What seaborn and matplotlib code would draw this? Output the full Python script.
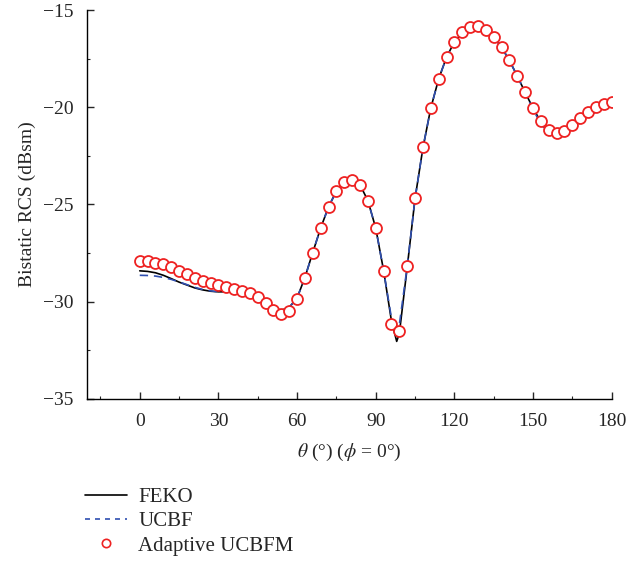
import numpy as np
import pandas as pd
import matplotlib
matplotlib.use("Agg")
import matplotlib.pyplot as plt
from matplotlib.ticker import MultipleLocator
from matplotlib.lines import Line2D
import seaborn as sns

# ── data ──
theta_line = [0, 3, 6, 9, 12, 15, 18, 21, 24, 27, 30, 33, 36, 39, 42, 45, 48, 51,
              54, 57, 60, 63, 66, 69, 72, 75, 78, 81, 84, 87, 90, 93, 96, 98, 99,
              102, 105, 108, 111, 114, 117, 120, 123, 126, 129, 132, 135, 138,
              141, 144, 147, 150, 153, 156, 159, 162, 165, 168, 171, 174, 177, 180]

feko = [-28.42, -28.45, -28.52, -28.65, -28.82, -29.00, -29.15, -29.30, -29.40,
        -29.47, -29.50, -29.50, -29.48, -29.46, -29.52, -29.72, -30.02, -30.32,
        -30.45, -30.30, -29.82, -28.76, -27.47, -26.22, -25.13, -24.32, -23.85,
        -23.74, -24.00, -24.80, -26.22, -28.40, -31.00, -32.05, -31.65,
        -28.25, -24.70, -22.10, -20.05, -18.55, -17.43, -16.64, -16.16, -15.90,
        -15.85, -16.04, -16.38, -16.92, -17.60, -18.40, -19.24, -20.05, -20.76,
        -21.24, -21.40, -21.33, -21.00, -20.62, -20.30, -20.05, -19.86, -19.76]

ucbf = [-28.65, -28.66, -28.69, -28.76, -28.86, -28.99, -29.13, -29.27, -29.38,
        -29.45, -29.50, -29.51, -29.49, -29.47, -29.53, -29.73, -30.03, -30.33,
        -30.45, -30.30, -29.82, -28.76, -27.47, -26.22, -25.13, -24.32, -23.85,
        -23.74, -24.00, -24.80, -26.22, -28.40, -30.85, -31.35, -31.20,
        -28.20, -24.70, -22.10, -20.05, -18.55, -17.43, -16.64, -16.16, -15.90,
        -15.85, -16.04, -16.38, -16.92, -17.60, -18.40, -19.26, -20.12, -20.86,
        -21.32, -21.47, -21.42, -21.12, -20.80, -20.50, -20.24, -20.00, -19.86]

theta_pts = list(range(0, 181, 3))
adaptive = [-27.90, -27.93, -28.00, -28.09, -28.24, -28.42, -28.59, -28.78, -28.95,
            -29.07, -29.17, -29.27, -29.34, -29.46, -29.58, -29.79, -30.10, -30.44,
            -30.66, -30.51, -29.88, -28.77, -27.48, -26.24, -25.15, -24.33, -23.85,
            -23.73, -24.00, -24.81, -26.24, -28.43, -31.16, -31.50, -28.16, -24.69,
            -22.05, -20.03, -18.53, -17.42, -16.63, -16.15, -15.89, -15.84, -16.03,
            -16.37, -16.90, -17.59, -18.38, -19.22, -20.03, -20.73, -21.19, -21.35,
            -21.23, -20.93, -20.57, -20.27, -20.01, -19.82, -19.73]

lines = pd.DataFrame({"theta": theta_line, "FEKO": feko, "UCBF": ucbf})
pts = pd.DataFrame({"theta": theta_pts, "rcs": adaptive})

BLUE = "#2f4fb0"
RED = "#ee2222"

sns.set_style("ticks")
plt.rcParams["font.family"] = ["Liberation Serif", "DejaVu Serif"]
plt.rcParams["mathtext.fontset"] = "stix"

fig = plt.figure(figsize=(6.43, 5.65), dpi=100)
ax = fig.add_axes([0.1358, 0.2943, 0.8155, 0.688])

sns.lineplot(data=lines, x="theta", y="FEKO", ax=ax, color="black", lw=1.2)
sns.lineplot(data=lines, x="theta", y="UCBF", ax=ax, color=BLUE, lw=1.2,
             dashes=False, linestyle=(0, (5, 3.5)))
sns.scatterplot(data=pts, x="theta", y="rcs", ax=ax, marker="o", s=62,
                facecolor="white", edgecolor=RED, linewidth=1.3, zorder=3)

ax.set_xlim(-20, 180)
ax.set_ylim(-35, -15)
ax.xaxis.set_major_locator(MultipleLocator(30))
ax.xaxis.set_minor_locator(MultipleLocator(15))
ax.yaxis.set_major_locator(MultipleLocator(5))
ax.yaxis.set_minor_locator(MultipleLocator(2.5))
ax.set_xticks(range(0, 181, 30))
ax.tick_params(which="major", direction="in", length=5, width=1.0, labelsize=14, pad=10)
ax.tick_params(which="minor", direction="in", length=2.5, width=0.8)
ax.set_yticklabels([f"\u2212{abs(int(v))}" for v in ax.get_yticks()])
sns.despine(ax=ax)
for sp in ("left", "bottom"):
    ax.spines[sp].set_linewidth(1.0)
    ax.spines[sp].set_color("black")

ax.set_xlabel(r"$\theta$ (°) ($\phi$ = 0°)", fontsize=14, labelpad=9)
ax.set_ylabel("Bistatic RCS (dBsm)", fontsize=14, labelpad=5)

handles = [
    Line2D([], [], color="black", lw=1.2),
    Line2D([], [], color=BLUE, lw=1.2, linestyle=(0, (3, 3))),
    Line2D([], [], color=RED, marker="o", markerfacecolor="white", ls="none",
           markersize=6, markeredgewidth=1.2),
]
fig.legend(handles, ["FEKO", "UCBF", "Adaptive UCBFM"], loc="upper left",
           bbox_to_anchor=(0.103, 0.17), frameon=False, fontsize=15,
           handlelength=2.0, labelspacing=0.22, handletextpad=0.55)

fig.savefig("out.png", dpi=100)
